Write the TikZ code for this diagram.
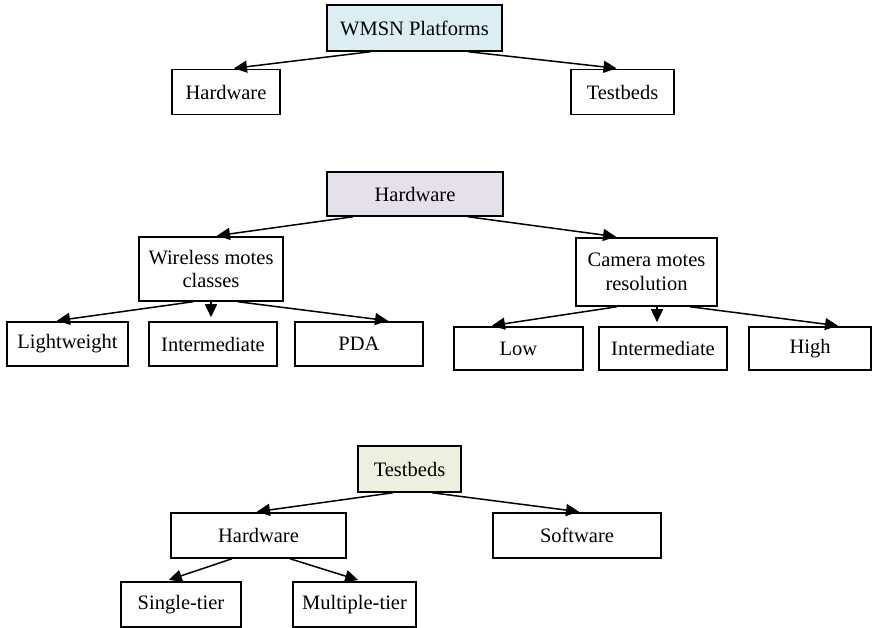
\documentclass[tikz,border=0pt]{standalone}
\usepackage{fontspec}
\setmainfont{Liberation Serif}
\usepackage{tikz}
\usetikzlibrary{arrows.meta,calc}
\definecolor{rootblue}{HTML}{DBEEF3}
\definecolor{rootpurple}{HTML}{E5E0EC}
\definecolor{rootgreen}{HTML}{EBF1DE}

\begin{document}
\begin{tikzpicture}[
  x=1pt, y=-1pt,
  font=\fontsize{20.5}{23.5}\selectfont,
  box/.style={rectangle, draw, line width=1.5pt, inner sep=0pt,
              minimum height=45pt, align=center},
  arr/.style={-{Triangle[length=13pt,width=12pt]}, line width=1.5pt, shorten >=4pt}
]
  \useasboundingbox (0,0) rectangle (876,628);
  % WMSN platforms
  \node[box, fill=rootblue, minimum width=175pt, minimum height=46pt] (wmsn) at (414.5,28) {WMSN Platforms};
  \node[box, minimum width=108pt] (hwa) at (226,92) {Hardware};
  \node[box, minimum width=103pt] (tba) at (622.5,92) {Testbeds};
  \draw[arr] ([xshift=-44pt]wmsn.south) -- ([xshift=4pt]hwa.north);
  \draw[arr] ([xshift=54pt]wmsn.south) -- ([xshift=-2pt]tba.north);
  % Hardware
  \node[box, fill=rootpurple, minimum width=176pt, minimum height=44pt] (hwb) at (415,194) {Hardware};
  \node[box, minimum width=144pt, minimum height=64pt] (wmc) at (211,269) {Wireless motes\\ classes};
  \node[box, minimum width=141pt, minimum height=68pt] (cmr) at (646.5,272) {Camera motes\\ resolution};
  \node[box, minimum width=121pt, minimum height=44pt] (lw)  at (67.5,344) {Lightweight};
  \node[box, minimum width=128pt, minimum height=44pt] (imw) at (213,344) {Intermediate};
  \node[box, minimum width=128pt, minimum height=44pt] (pda) at (359,344) {PDA};
  \node[box, minimum width=129pt, minimum height=43pt] (low) at (518.5,348.5) {Low};
  \node[box, minimum width=128pt, minimum height=43pt] (imc) at (663,348.5) {Intermediate};
  \node[box, minimum width=122pt, minimum height=43pt] (high) at (810,348.5) {High};
  \draw[arr] ([xshift=-62pt]hwb.south) -- ([xshift=2pt]wmc.north);
  \draw[arr] ([xshift=53pt]hwb.south) -- ([xshift=-26.5pt]cmr.north);
  \draw[arr] ([xshift=-18pt]wmc.south) -- ([xshift=-14.5pt]lw.north);
  \draw[arr] (wmc.south) -- (wmc.south |- imw.north);
  \draw[arr] ([xshift=27pt]wmc.south) -- ([xshift=33pt]pda.north);
  \draw[arr] ([xshift=-29.5pt]cmr.south) -- ([xshift=-30.5pt]low.north);
  \draw[arr] ([xshift=10.5pt]cmr.south) -- ([xshift=-6pt]imc.north);
  \draw[arr] ([xshift=43.5pt]cmr.south) -- ([xshift=32pt]high.north);
  % Testbeds
  \node[box, fill=rootgreen, minimum width=103pt, minimum height=46pt] (tbc) at (409.5,469) {Testbeds};
  \node[box, minimum width=175pt] (hwc) at (258.5,535.5) {Hardware};
  \node[box, minimum width=168pt] (sw)  at (577,535.5) {Software};
  \node[box, minimum width=120pt] (st)  at (181,604.5) {Single-tier};
  \node[box, minimum width=123pt] (mt)  at (354.5,604.5) {Multiple-tier};
  \draw[arr] ([xshift=-16.5pt]tbc.south) -- ([xshift=-5.5pt]hwc.north);
  \draw[arr] ([xshift=22.5pt]tbc.south) -- ([xshift=6pt]sw.north);
  \draw[arr] ([xshift=-26.5pt]hwc.south) -- ([xshift=-16pt]st.north);
  \draw[arr] ([xshift=31.5pt]hwc.south) -- ([xshift=7.5pt]mt.north);
\end{tikzpicture}
\end{document}
